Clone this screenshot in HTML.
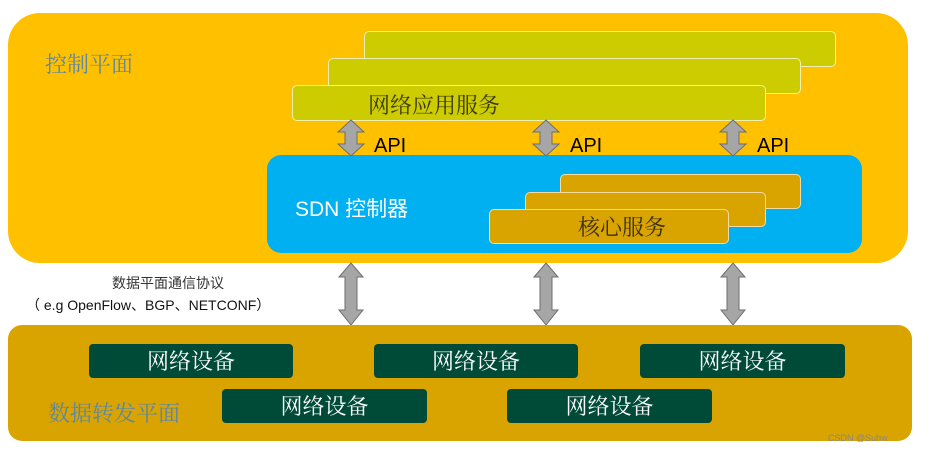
<!DOCTYPE html>
<html><head><meta charset="utf-8"><style>
body{margin:0;width:930px;height:452px;background:#fff;position:relative;overflow:hidden;font-family:"Liberation Sans","Noto Sans CJK SC",sans-serif}
div{position:absolute;box-sizing:border-box}
.bar{background:#cccc00;border:1.5px solid #eef0b0;border-radius:5px}
.core{background:#d9a300;border:1.5px solid #f4dca0;border-radius:5px}
.dev{background:#004a38;border-radius:4px;color:#fff;font-size:22px;text-align:center;line-height:33px;font-family:"Noto Serif CJK SC",serif}
.t{white-space:nowrap}
</style></head><body>
<div style="left:8px;top:13px;width:900px;height:250px;background:#ffc000;border-radius:32px"></div>
<div class="t" style="left:45px;top:50px;font-size:22px;color:#5f87a0;font-family:'Noto Serif CJK SC',serif;line-height:28px">控制平面</div>
<div class="bar" style="left:364px;top:31px;width:472px;height:36px"></div>
<div class="bar" style="left:328px;top:58px;width:473px;height:36px"></div>
<div class="bar" style="left:292px;top:85px;width:474px;height:36px"></div>
<div class="t" style="left:368px;top:91px;font-size:22px;color:#3a3a10;line-height:28px;font-family:'Noto Serif CJK SC',serif">网络应用服务</div>
<div style="left:267px;top:155px;width:595px;height:98px;background:#00b0f0;border-radius:14px"></div>
<div class="t" style="left:295px;top:197px;font-size:21px;color:#fff;line-height:26px">SDN 控制器</div>
<div class="core" style="left:560px;top:174px;width:241px;height:35px"></div>
<div class="core" style="left:525px;top:192px;width:241px;height:35px"></div>
<div class="core" style="left:489px;top:209px;width:240px;height:35px"></div>
<div class="t" style="left:578px;top:213px;font-size:22px;color:#3a3010;line-height:28px;font-family:'Noto Serif CJK SC',serif">核心服务</div>
<div class="t" style="left:374px;top:134px;font-size:20px;color:#000;line-height:24px">API</div>
<div class="t" style="left:570px;top:134px;font-size:20px;color:#000;line-height:24px">API</div>
<div class="t" style="left:757px;top:134px;font-size:20px;color:#000;line-height:24px">API</div>
<svg style="position:absolute;left:0;top:0" width="930" height="452">
<g fill="#a6a6a6" stroke="#6d6d6d" stroke-width="1">
<polygon points="351,120 364,132 357,132 357,144 364,144 351,156 338,144 345,144 345,132 338,132"/>
<polygon points="546,120 559,132 552,132 552,144 559,144 546,156 533,144 540,144 540,132 533,132"/>
<polygon points="733,120 746,132 739,132 739,144 746,144 733,156 720,144 727,144 727,132 720,132"/>
<polygon points="351,263 363,277 357,277 357,310 363,310 351,325 339,310 345,310 345,277 339,277"/>
<polygon points="546,263 558,277 552,277 552,310 558,310 546,325 534,310 540,310 540,277 534,277"/>
<polygon points="733,263 745,277 739,277 739,310 745,310 733,325 721,310 727,310 727,277 721,277"/>
</g></svg>
<div class="t" style="left:112px;top:274px;font-size:14px;color:#333;line-height:18px">数据平面通信协议</div>
<div class="t" style="left:26px;top:296px;font-size:14px;color:#111;line-height:18px">（ e.g OpenFlow、BGP、NETCONF）</div>
<div style="left:8px;top:325px;width:904px;height:116px;background:#d9a300;border-radius:14px"></div>
<div class="dev" style="left:89px;top:344px;width:204px;height:34px">网络设备</div>
<div class="dev" style="left:374px;top:344px;width:204px;height:34px">网络设备</div>
<div class="dev" style="left:640px;top:344px;width:205px;height:34px">网络设备</div>
<div class="dev" style="left:222px;top:389px;width:205px;height:34px">网络设备</div>
<div class="dev" style="left:507px;top:389px;width:205px;height:34px">网络设备</div>
<div class="t" style="left:48px;top:399px;font-size:22px;color:#5f87a0;line-height:28px;font-family:'Noto Serif CJK SC',serif">数据转发平面</div>
<div class="t" style="left:828px;top:433px;font-size:9px;color:#888">CSDN @Suhw</div>
</body></html>
